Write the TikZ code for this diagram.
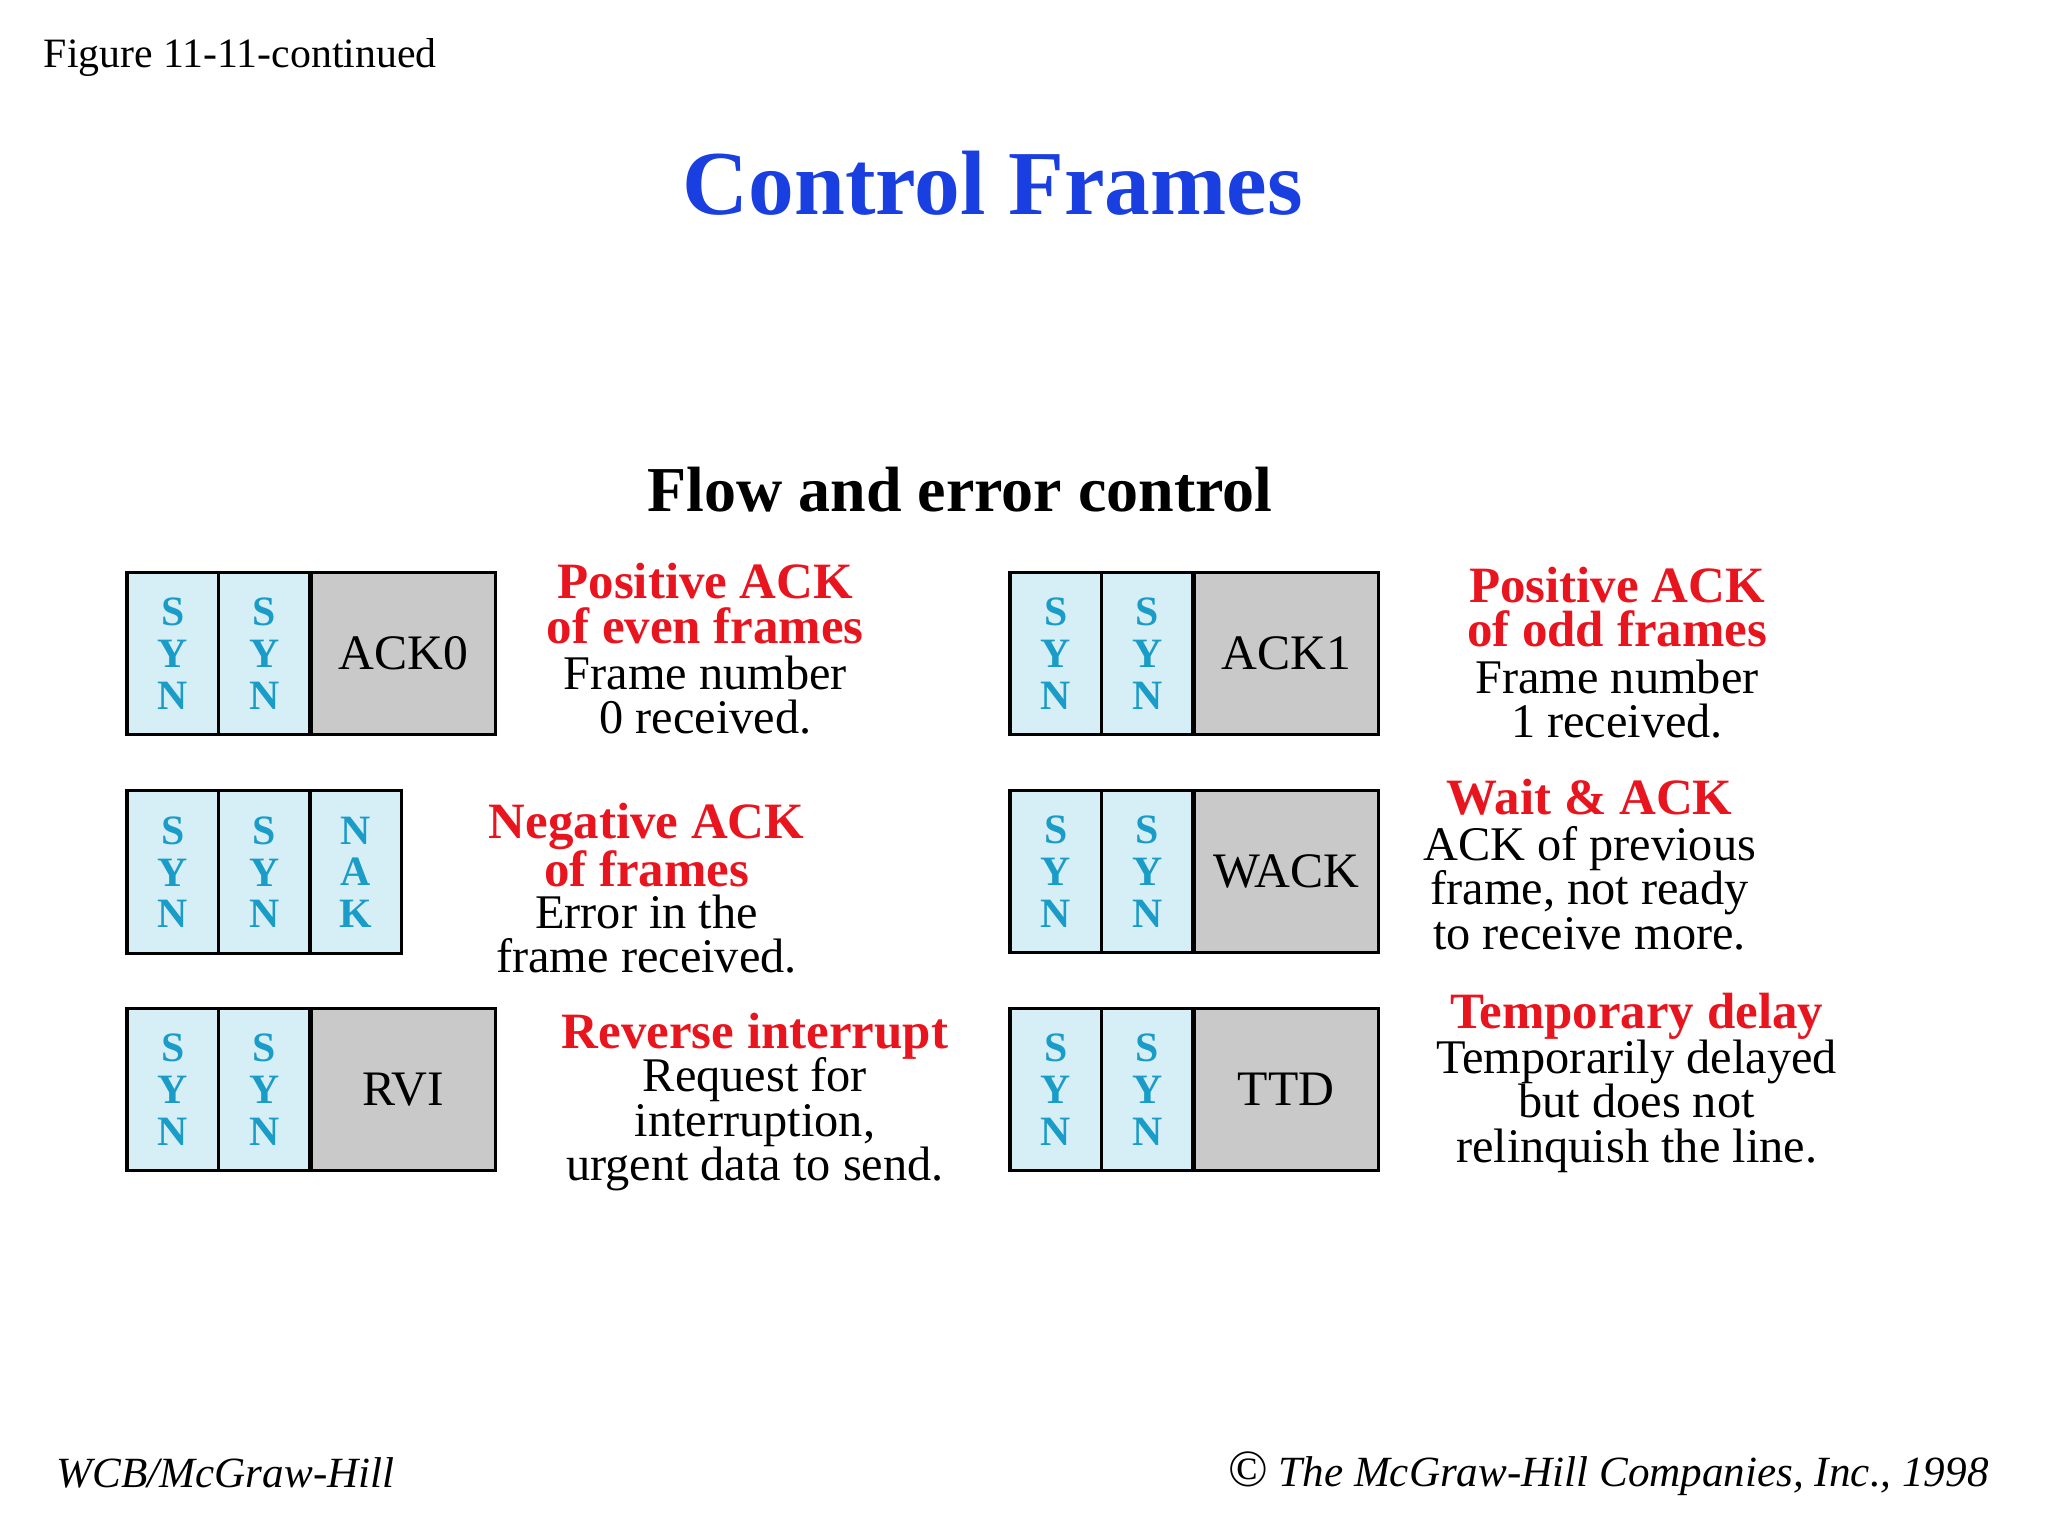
\documentclass[tikz,border=0pt]{standalone}
\usepackage{fontspec}
\setmainfont{Liberation Serif}
\begin{document}
\begin{tikzpicture}[x=1pt,y=-1pt,
  syn/.style={draw,line width=2.5pt,fill=cellblue,text=cyantext,font=\fontsize{32}{32}\selectfont\bfseries,align=center,inner sep=0pt},
  gray/.style={draw,line width=2.5pt,fill=cellgray,font=\fontsize{38}{38}\selectfont,inner sep=0pt},
  red/.style={text=redtext,font=\fontsize{39}{34}\selectfont\bfseries,align=center,inner sep=0pt},
  blk/.style={font=\fontsize{37}{34}\selectfont,align=center,inner sep=0pt}]
\definecolor{cellblue}{HTML}{D6EEF6}
\definecolor{cyantext}{HTML}{1A9CC8}
\definecolor{cellgray}{HTML}{C9C9C9}
\definecolor{redtext}{HTML}{E8141E}
\definecolor{titleblue}{HTML}{1A3FE0}
\useasboundingbox (0,0) rectangle (1568,1176);
\node[anchor=west,font=\fontsize{32}{32}\selectfont] (fig) at (30,44) {Figure 11-11-continued};
\node[text=titleblue,font=\fontsize{70}{70}\selectfont\bfseries] (title) at (760,140) {Control Frames};
\node[font=\fontsize{49}{49}\selectfont\bfseries] (sub) at (735,375) {Flow and error control};
\foreach \x/\y/\lab/\nm in {96/437/ACK0/a,772/437/ACK1/b,96/771/RVI/c,772/604/WACK/d,772/771/TTD/e}{
  \node[syn,minimum width=70pt,minimum height=124pt,anchor=north west] (\nm1) at (\x,\y) {S\\Y\\N};
  \node[syn,minimum width=70pt,minimum height=124pt,anchor=north west] (\nm2) at (\x+70,\y) {S\\Y\\N};
  \node[gray,minimum width=141pt,minimum height=124pt,anchor=north west] (\nm3) at (\x+141,\y) {\lab};
}
\node[syn,minimum width=70pt,minimum height=125pt,anchor=north west] (n1) at (96,604) {S\\Y\\N};
\node[syn,minimum width=70pt,minimum height=125pt,anchor=north west] (n2) at (166,604) {S\\Y\\N};
\node[syn,minimum width=70pt,minimum height=125pt,anchor=north west] (n3) at (236,604) {N\\A\\K};
\node[red] (t1) at (540,462) {Positive ACK\\of even frames};
\node[blk] (d1) at (540,532) {Frame number\\0 received.};
\node[red] (t2) at (1238,465) {Positive ACK\\of odd frames};
\node[blk] (d2) at (1238,535) {Frame number\\1 received.};
\node[red] (t3) at (495,647) {Negative ACK\\of frames};
\node[blk] (d3) at (495,715) {Error in the\\frame received.};
\node[red] (t4) at (1217,610) {Wait \& ACK};
\node[blk] (d4) at (1217,680) {ACK of previous\\frame, not ready\\to receive more.};
\node[red] (t5) at (578,793) {Reverse interrupt};
\node[blk] (d5) at (578,861) {Request for\\interruption,\\urgent data to send.};
\node[red] (t6) at (1253,778) {Temporary delay};
\node[blk] (d6) at (1253,847) {Temporarily delayed\\but does not\\relinquish the line.};
\node[anchor=west,font=\fontsize{33}{33}\selectfont\itshape] (f1) at (40,1128) {WCB/McGraw-Hill};
\node[anchor=east,font=\fontsize{33}{33}\selectfont\itshape] (f2) at (1526,1128) {{\upshape\fontsize{40}{40}\selectfont ©} The McGraw-Hill Companies, Inc., 1998};
\end{tikzpicture}
\end{document}
